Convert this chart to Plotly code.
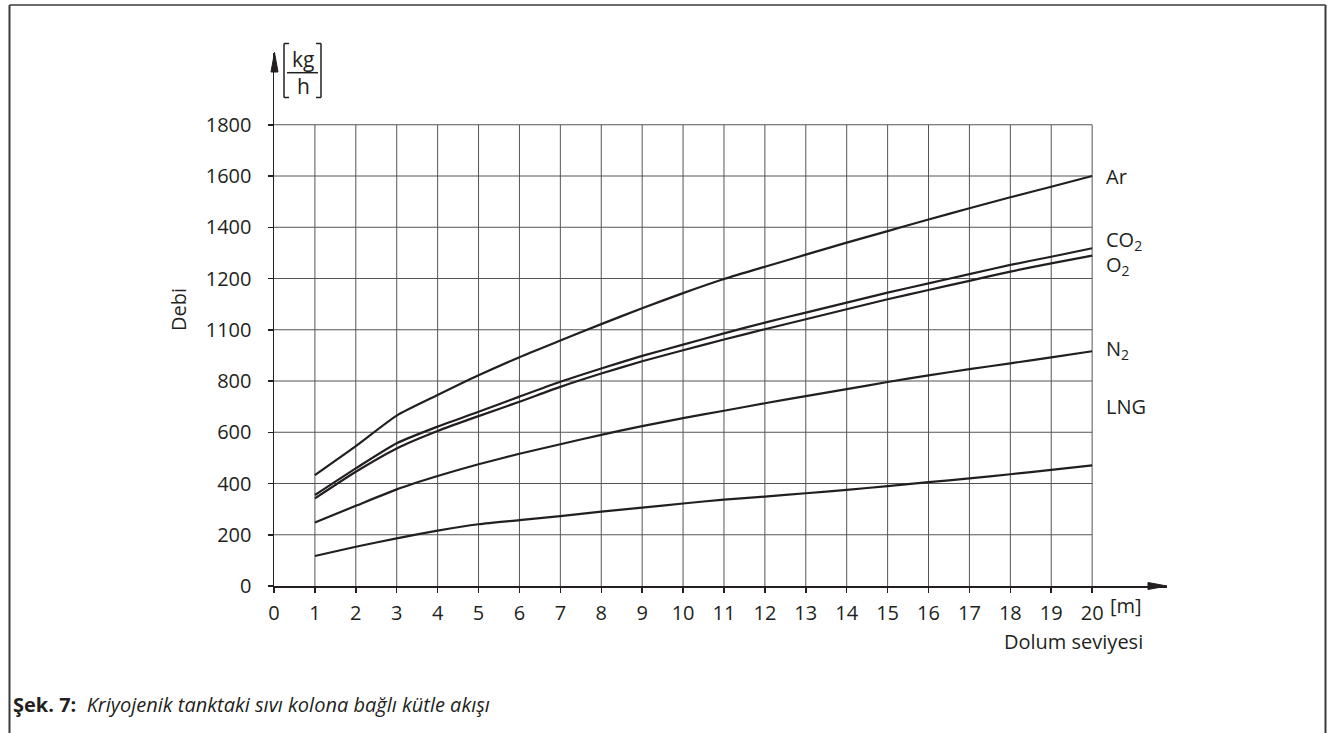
import plotly.graph_objects as go

# ---------------- data ----------------
FILL_LEVEL_M = [1, 2, 3, 4, 5, 6, 7, 8, 9, 10, 11, 12, 13, 14, 15, 16, 17, 18, 19, 20]

AR = [433, 546, 665, 745, 822, 893, 958, 1022, 1084, 1143, 1198, 1246, 1293, 1340, 1385, 1430, 1474, 1517, 1558, 1600]
CO2 = [355, 459, 557, 622, 680, 739, 797, 849, 898, 942, 986, 1028, 1067, 1106, 1145, 1181, 1217, 1253, 1285, 1318]
O2 = [342, 446, 537, 605, 663, 719, 777, 829, 877, 920, 962, 1002, 1041, 1080, 1119, 1155, 1191, 1227, 1259, 1289]
N2 = [248, 313, 377, 429, 475, 516, 553, 590, 624, 655, 684, 713, 741, 768, 796, 822, 846, 869, 892, 916]
LNG = [117, 153, 186, 216, 241, 257, 273, 290, 306, 322, 337, 349, 362, 375, 390, 405, 420, 436, 453, 471]

SERIES_NAMES = ["Ar", "CO<sub>2</sub>", "O<sub>2</sub>", "N<sub>2</sub>", "LNG"]
SERIES_VALUES = [AR, CO2, O2, N2, LNG]
# vertical position (in y data units) of each series' label at the right end
LABEL_Y = [1600, 1347, 1250, 921, 702]

X_TICK_VALUES = list(range(0, 21))
X_TICK_LABELS = [str(v) for v in X_TICK_VALUES]
Y_TICK_VALUES = [0, 200, 400, 600, 800, 1000, 1200, 1400, 1600, 1800]
Y_TICK_LABELS = ["0", "200", "400", "600", "800", "1100", "1200", "1400", "1600", "1800"]

X_GRID_MAX = 20
Y_GRID_MAX = 1800

# ---------------- layout geometry ----------------
W, H = 1338, 733
ML, MR, MT, MB = 274, 171, 53, 147
PW = W - ML - MR
PH = H - MT - MB
X_RANGE = [0, 21.83]
Y_RANGE = [0, 2080]

FONT = "'Open Sans', Lato, sans-serif"
INK = "#231f20"
GRID = "#555555"


def px(xpix):
    return (xpix - ML) / PW


def py(ypix):
    return (H - MB - ypix) / PH


fig = go.Figure()

# grid (drawn as data lines so it stops at 20 m / 1800 kg/h)
gx, gy = [], []
for xv in X_TICK_VALUES[1:]:
    gx += [xv, xv, None]
    gy += [0, Y_GRID_MAX, None]
for yv in Y_TICK_VALUES[1:]:
    gx += [0, X_GRID_MAX, None]
    gy += [yv, yv, None]
fig.add_trace(go.Scatter(x=gx, y=gy, mode="lines", line=dict(color=GRID, width=1),
                         hoverinfo="skip", showlegend=False))

for name, vals in zip(SERIES_NAMES, SERIES_VALUES):
    fig.add_trace(go.Scatter(x=FILL_LEVEL_M, y=vals, mode="lines", name=name,
                             line=dict(color=INK, width=2.2, shape="spline", smoothing=0.6),
                             showlegend=False))

annotations = []
for name, ly in zip(SERIES_NAMES, LABEL_Y):
    annotations.append(dict(x=X_GRID_MAX, y=ly, xref="x", yref="y", text=name,
                            showarrow=False, xanchor="left", yanchor="middle", xshift=12,
                            font=dict(family=FONT, size=20, color=INK)))

# axis titles / units
annotations += [
    dict(x=px(1108), y=py(605), xref="paper", yref="paper", text="[m]", showarrow=False,
         xanchor="left", yanchor="middle", font=dict(family=FONT, size=20, color=INK)),
    dict(x=px(1145), y=py(641), xref="paper", yref="paper", text="Dolum seviyesi",
         showarrow=False, xanchor="right", yanchor="middle",
         font=dict(family=FONT, size=20, color=INK)),
    dict(x=px(178), y=py(310), xref="paper", yref="paper", text="Debi", textangle=-90,
         showarrow=False, xanchor="center", yanchor="middle",
         font=dict(family=FONT, size=20, color=INK)),
    dict(x=px(303), y=py(59), xref="paper", yref="paper", text="kg", showarrow=False,
         xanchor="center", yanchor="middle", font=dict(family=FONT, size=21, color=INK)),
    dict(x=px(303), y=py(86), xref="paper", yref="paper", text="h", showarrow=False,
         xanchor="center", yanchor="middle", font=dict(family=FONT, size=21, color=INK)),
    dict(x=px(11), y=py(704), xref="paper", yref="paper",
         text="<b>Şek. 7:</b>\u00a0\u00a0<i>Kriyojenik tanktaki sıvı kolona bağlı kütle akışı</i>",
         showarrow=False, xanchor="left", yanchor="middle",
         font=dict(family=FONT, size=20, color=INK)),
]

shapes = []


def pline(x0, y0, x1, y1, color=INK, width=1.5):
    return dict(type="line", xref="paper", yref="paper", x0=px(x0), y0=py(y0),
                x1=px(x1), y1=py(y1), line=dict(color=color, width=width))


def ppath(points, color=INK):
    d = "M " + " L ".join(f"{px(a):.5f},{py(b):.5f}" for a, b in points) + " Z"
    return dict(type="path", xref="paper", yref="paper", path=d,
                fillcolor=color, line=dict(color=color, width=1))


# axis arrowheads
shapes += [
    ppath([(1167, 586), (1148, 582.5), (1148, 589.5)]),
    ppath([(274.5, 52.5), (271, 72), (278, 72)]),
]

# unit fraction line and brackets
shapes += [
    pline(287, 72.7, 318, 72.7),
    pline(284, 43.5, 284, 97.5), pline(284, 43.5, 289, 43.5), pline(284, 97.5, 289, 97.5),
    pline(321, 43.5, 321, 97.5), pline(316, 43.5, 321, 43.5), pline(316, 97.5, 321, 97.5),
]
# outer frame
shapes += [
    pline(9.5, 5, 1325.5, 5, color="#6a6a6a", width=2),
    pline(9.5, 5, 9.5, 745, color="#3a3a3a", width=2),
    pline(1325.5, 5, 1325.5, 745, color="#3a3a3a", width=2),
]

fig.update_layout(
    width=W, height=H,
    margin=dict(l=ML, r=MR, t=MT, b=MB, pad=0),
    paper_bgcolor="white", plot_bgcolor="white",
    showlegend=False,
    annotations=annotations,
    shapes=shapes,
    xaxis=dict(range=X_RANGE, tickvals=X_TICK_VALUES, ticktext=X_TICK_LABELS,
               showgrid=False, zeroline=False, showline=True, linecolor=INK, linewidth=1.5,
               ticks="outside", ticklen=5, tickwidth=1.5, tickcolor=INK,
               ticklabelstandoff=3,
               tickfont=dict(family=FONT, size=20, color=INK), fixedrange=True),
    yaxis=dict(range=Y_RANGE, tickvals=Y_TICK_VALUES, ticktext=Y_TICK_LABELS,
               showgrid=False, zeroline=False, showline=True, linecolor=INK, linewidth=1.5,
               ticks="outside", ticklen=5, tickwidth=1.5, tickcolor=INK,
               ticklabelstandoff=12,
               tickfont=dict(family=FONT, size=20, color=INK), fixedrange=True),
)

fig.write_html(
    "out.html",
    config={"displayModeBar": False, "staticPlot": True},
    post_script="document.body.style.margin='0';document.body.style.overflow='hidden';",
)
